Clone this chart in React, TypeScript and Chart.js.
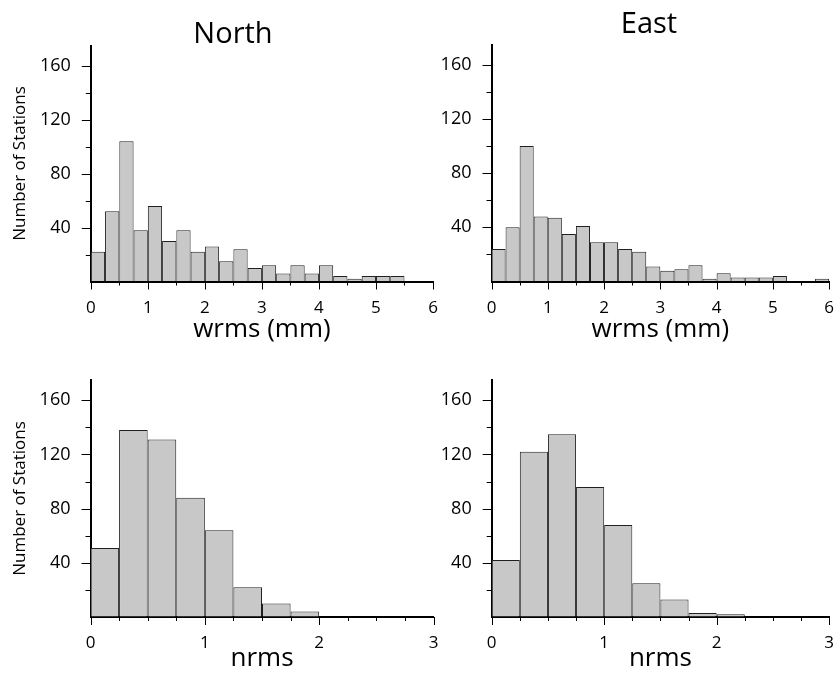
import React, { useEffect, useRef } from 'react';
import { Chart, registerables } from 'chart.js';

Chart.register(...registerables);

const FONT = '"Open Sans", "Noto Sans", "DejaVu Sans", sans-serif';

// Histogram bin width (same for all four panels)
const BIN_WIDTH = 0.25;

// Counts per bin (Number of Stations), bins start at 0
const northWrmsCounts = [22, 52, 104, 38, 56, 30, 38, 22, 26, 15, 24, 10, 12, 6, 12, 6, 12, 4, 2, 4, 4, 4];
const eastWrmsCounts = [24, 40, 100, 48, 47, 35, 41, 29, 29, 24, 22, 11, 8, 9, 12, 2, 6, 3, 3, 3, 4, 0, 0, 2];
const northNrmsCounts = [51, 138, 131, 88, 64, 22, 10, 4, 0, 0, 0, 0];
const eastNrmsCounts = [42, 122, 135, 96, 68, 25, 13, 3, 2, 0, 0, 0];

// Tick labels
const wrmsTickLabels = ['0', '1', '2', '3', '4', '5', '6'];
const nrmsTickLabels = ['0', '1', '2', '3'];
const countTickLabels = ['40', '80', '120', '160'];

interface PanelSpec {
  counts: number[];
  title?: string;
  titleX?: number;
  titleY?: number;
  xTitle: string;
  xMax: number;
  xStep: number;
  xLabels: string[];
  yTitle?: string;
  left: number;
  top: number;
  width: number;
  height: number;
  plotLeft: number;
  plotRight: number;
  plotTop: number;
  plotBottom: number;
  xTitlePad: number;
}

const panels: PanelSpec[] = [
  {
    counts: northWrmsCounts, title: 'North', titleX: 233, titleY: 43,
    xTitle: 'wrms (mm)', xMax: 6, xStep: 0.5, xLabels: wrmsTickLabels, yTitle: 'Number of Stations',
    left: 0, top: 0, width: 474, height: 346,
    plotLeft: 90.8, plotRight: 433, plotTop: 45.5, plotBottom: 281.5, xTitlePad: 3,
  },
  {
    counts: eastWrmsCounts, title: 'East', titleX: 249, titleY: 33,
    xTitle: 'wrms (mm)', xMax: 6, xStep: 0.5, xLabels: wrmsTickLabels,
    left: 400, top: 0, width: 450, height: 346,
    plotLeft: 91.5, plotRight: 434.3, plotTop: 44.5, plotBottom: 281.5, xTitlePad: 3,
  },
  {
    counts: northNrmsCounts,
    xTitle: 'nrms', xMax: 3, xStep: 0.25, xLabels: nrmsTickLabels, yTitle: 'Number of Stations',
    left: 0, top: 330, width: 474, height: 343,
    plotLeft: 90.5, plotRight: 433.5, plotTop: 50, plotBottom: 287, xTitlePad: 1,
  },
  {
    counts: eastNrmsCounts,
    xTitle: 'nrms', xMax: 3, xStep: 0.25, xLabels: nrmsTickLabels,
    left: 400, top: 330, width: 450, height: 343,
    plotLeft: 91.7, plotRight: 434.3, plotTop: 50, plotBottom: 287, xTitlePad: 1,
  },
];

const tickMarks = {
  id: 'tickMarks',
  afterDraw(chart: any) {
    const { ctx, chartArea } = chart;
    const xs = chart.scales.x;
    const ys = chart.scales.y;
    ctx.save();
    ctx.strokeStyle = '#000';
    ctx.lineWidth = 1;
    xs.ticks.forEach((t: any) => {
      const px = Math.round(xs.getPixelForValue(t.value)) + 0.5;
      const len = Number.isInteger(t.value) ? 8 : 4;
      ctx.beginPath();
      ctx.moveTo(px, chartArea.bottom);
      ctx.lineTo(px, chartArea.bottom + len);
      ctx.stroke();
    });
    ys.ticks.forEach((t: any) => {
      if (t.value === 0) return;
      const py = Math.round(ys.getPixelForValue(t.value)) + 0.5;
      const len = t.value % 40 === 0 ? 9 : 5;
      ctx.beginPath();
      ctx.moveTo(chartArea.left, py);
      ctx.lineTo(chartArea.left - len, py);
      ctx.stroke();
    });
    ctx.restore();
  },
};

function Panel({ spec }: { spec: PanelSpec }) {
  const ref = useRef<HTMLCanvasElement>(null);

  useEffect(() => {
    const canvas = ref.current;
    if (!canvas) return;
    const data = spec.counts.map((c, i) => ({ x: (i + 0.5) * BIN_WIDTH, y: c === 0 ? null : c }));

    const titlePlugin = {
      id: 'panelTitle',
      afterDraw(chart: any) {
        if (!spec.title) return;
        const ctx = chart.ctx;
        ctx.save();
        ctx.font = `29px ${FONT}`;
        ctx.fillStyle = '#000';
        ctx.textAlign = 'center';
        ctx.textBaseline = 'alphabetic';
        ctx.fillText(spec.title, spec.titleX, spec.titleY);
        ctx.restore();
      },
    };

    const chart = new Chart(canvas, {
      type: 'bar',
      data: {
        datasets: [
          {
            data: data as any,
            backgroundColor: '#c8c8c8',
            borderColor: '#202020',
            borderWidth: { top: 1, left: 1, right: 1, bottom: 0 } as any,
            barPercentage: 1,
            categoryPercentage: 1,
            inflateAmount: 0,
          } as any,
        ],
      },
      options: {
        responsive: false,
        maintainAspectRatio: false,
        animation: false,
        devicePixelRatio: 1,
        layout: {
          padding: { left: 0, top: spec.plotTop, right: spec.width - spec.plotRight, bottom: 0 },
        },
        plugins: {
          legend: { display: false },
          tooltip: { enabled: false },
          title: { display: false },
        },
        scales: {
          x: {
            type: 'linear',
            min: 0,
            max: spec.xMax,
            offset: false,
            grid: { display: true, drawOnChartArea: false, drawTicks: false, offset: false },
            border: { display: true, color: '#000', width: 2 },
            ticks: {
              stepSize: spec.xStep,
              autoSkip: false,
              maxRotation: 0,
              minRotation: 0,
              includeBounds: false,
              padding: 16,
              color: '#000',
              font: { family: FONT, size: 17 },
              callback: (v: any) => (spec.xLabels.includes(String(v)) ? String(v) : ''),
            },
            title: {
              display: true,
              text: spec.xTitle,
              color: '#000',
              font: { family: FONT, size: 26, lineHeight: 1 },
              padding: { top: 0, bottom: spec.xTitlePad },
            },
            afterFit: (s: any) => {
              s.height = spec.height - spec.plotBottom;
            },
          } as any,
          y: {
            type: 'linear',
            min: 0,
            max: 175,
            grid: { display: true, drawOnChartArea: false, drawTicks: false },
            border: { display: true, color: '#000', width: 2 },
            ticks: {
              stepSize: 20,
              autoSkip: false,
              includeBounds: false,
              padding: 20,
              color: '#000',
              font: { family: FONT, size: 18 },
              callback: (v: any) => (countTickLabels.includes(String(v)) ? String(v) : ''),
            },
            title: spec.yTitle
              ? {
                  display: true,
                  text: spec.yTitle,
                  color: '#000',
                  font: { family: FONT, size: 17, lineHeight: 1.2 },
                  padding: { top: 10, bottom: 0 },
                }
              : { display: false },
            afterFit: (s: any) => {
              s.width = spec.plotLeft;
            },
          } as any,
        },
      },
      plugins: [tickMarks, titlePlugin],
    });

    return () => chart.destroy();
  }, [spec]);

  return (
    <canvas
      ref={ref}
      width={spec.width}
      height={spec.height}
      style={{ position: 'absolute', left: spec.left, top: spec.top, width: spec.width, height: spec.height }}
    />
  );
}

export default function App() {
  return (
    <div
      style={{
        position: 'absolute',
        left: 0,
        top: 0,
        width: 840,
        height: 673,
        overflow: 'hidden',
        background: '#fff',
      }}
    >
      {panels.map((p, i) => (
        <Panel key={i} spec={p} />
      ))}
    </div>
  );
}
